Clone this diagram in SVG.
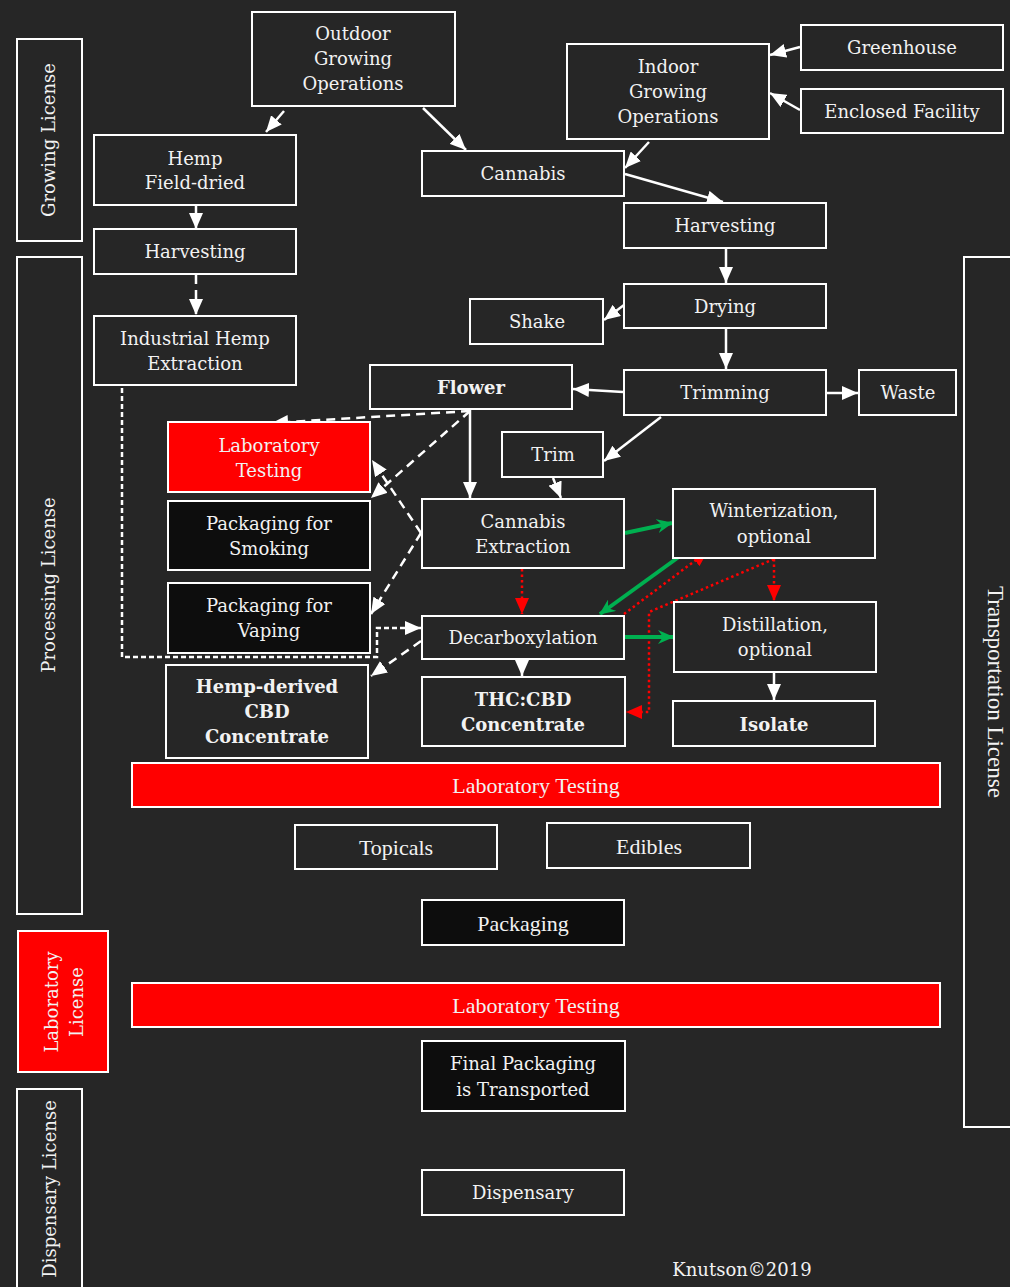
<svg xmlns="http://www.w3.org/2000/svg" width="1010" height="1287" viewBox="0 0 1010 1287">
<style>
.bx{fill:#262626;stroke:#fff;stroke-width:2}
.bk{fill:#0d0d0d;stroke:#fff;stroke-width:2}
.rd{fill:#ff0000;stroke:#fff;stroke-width:2}
.t{font-family:"DejaVu Serif",Georgia,serif;font-size:18px;fill:#f2f2f2;text-anchor:middle}
.tb{font-weight:bold}
.tt{font-family:"Liberation Serif","Times New Roman",serif;font-size:22px;fill:#f2f2f2;text-anchor:middle}
.w{stroke:#fff;stroke-width:2.5;fill:none}
.wd{stroke-dasharray:9 6}
.wf{stroke-dasharray:5 3}
.r{stroke:#f00;stroke-width:2.5;stroke-dasharray:2.5 3;fill:none}
.g{stroke:#00b050;stroke-width:4;fill:none}
</style>
<defs>
<marker id="aw" markerUnits="userSpaceOnUse" markerWidth="16" markerHeight="14" refX="16" refY="7" orient="auto"><path d="M0,0 L16,7 L0,14 z" fill="#fff"/></marker>
<marker id="ar" markerUnits="userSpaceOnUse" markerWidth="16" markerHeight="14" refX="16" refY="7" orient="auto"><path d="M0,0 L16,7 L0,14 z" fill="#f00"/></marker>
<marker id="ag" markerUnits="userSpaceOnUse" markerWidth="16" markerHeight="14" refX="15" refY="7" orient="auto"><path d="M0,0 L16,7 L0,14 L5,7 z" fill="#00b050"/></marker>
</defs>
<rect width="1010" height="1287" fill="#262626"/>

<g id="connectors">
<line class="w" x1="284" y1="111" x2="266" y2="132" marker-end="url(#aw)"/>
<line class="w" x1="423" y1="108" x2="466" y2="150" marker-end="url(#aw)"/>
<line class="w" x1="196" y1="206" x2="196" y2="229" marker-end="url(#aw)"/>
<line class="w wd" x1="196" y1="275" x2="196" y2="315" marker-end="url(#aw)"/>
<line class="w" x1="649" y1="142" x2="625" y2="168" marker-end="url(#aw)"/>
<line class="w" x1="800" y1="47" x2="770" y2="55" marker-end="url(#aw)"/>
<line class="w" x1="800" y1="110" x2="770" y2="93" marker-end="url(#aw)"/>
<line class="w" x1="625" y1="174" x2="723" y2="202" marker-end="url(#aw)"/>
<line class="w" x1="726" y1="249" x2="726" y2="283" marker-end="url(#aw)"/>
<line class="w" x1="624" y1="305" x2="604" y2="320" marker-end="url(#aw)"/>
<line class="w" x1="726" y1="329" x2="726" y2="369" marker-end="url(#aw)"/>
<line class="w" x1="623" y1="392" x2="573" y2="389" marker-end="url(#aw)"/>
<line class="w" x1="827" y1="393" x2="858" y2="393" marker-end="url(#aw)"/>
<line class="w" x1="661" y1="417" x2="604" y2="461" marker-end="url(#aw)"/>
<line class="w" x1="470" y1="410" x2="470" y2="498" marker-end="url(#aw)"/>
<line class="w wd" x1="553" y1="478" x2="561" y2="498" marker-end="url(#aw)"/>
<line class="w wd" x1="470" y1="411" x2="272" y2="423" marker-end="url(#aw)"/>
<line class="w wd" x1="470" y1="411" x2="371" y2="498" marker-end="url(#aw)"/>
<line class="w wd" x1="421" y1="533" x2="372" y2="460" marker-end="url(#aw)"/>
<line class="w wd" x1="421" y1="533" x2="371" y2="614" marker-end="url(#aw)"/>
<path class="w wf" d="M122,380 L122,657 L377,657 L377,628 L421,628" marker-end="url(#aw)"/>
<line class="w wd" x1="421" y1="641" x2="371" y2="676" marker-end="url(#aw)"/>
<line class="r" x1="522" y1="569" x2="522" y2="614" marker-end="url(#ar)"/>
<line class="w" x1="522" y1="660" x2="522" y2="676" marker-end="url(#aw)"/>
<line class="g" x1="625" y1="533" x2="672" y2="523" marker-end="url(#ag)"/>
<line class="g" x1="687" y1="551" x2="600" y2="614" marker-end="url(#ag)"/>
<line class="r" x1="624" y1="614" x2="708" y2="551" marker-end="url(#ar)"/>
<line class="r" x1="774" y1="559" x2="774" y2="601" marker-end="url(#ar)"/>
<path class="r" d="M774,559 L649,612 L649,712 L626,712" marker-end="url(#ar)"/>
<line class="g" x1="625" y1="637" x2="673" y2="637" marker-end="url(#ag)"/>
<line class="w" x1="774" y1="673" x2="774" y2="700" marker-end="url(#aw)"/>
</g>

<g id="growing-license"><rect class="bx" x="17" y="39" width="65" height="202"/><text class="t" transform="translate(49,140) rotate(-90)" y="6">Growing License</text></g>
<g id="processing-license"><rect class="bx" x="17" y="257" width="65" height="657"/><text class="t" transform="translate(49,585) rotate(-90)" y="6">Processing License</text></g>
<g id="laboratory-license"><rect class="rd" x="18" y="931" width="90" height="141"/><text class="t" transform="translate(63,1002) rotate(-90)"><tspan x="0" y="-5">Laboratory</tspan><tspan x="0" y="20">License</tspan></text></g>
<g id="dispensary-license"><rect class="bx" x="17" y="1089" width="65" height="210"/><text class="t" transform="translate(50,1189) rotate(-90)" y="6">Dispensary License</text></g>
<g id="transportation-license"><rect class="bx" x="964" y="257" width="60" height="870"/><text class="tt" transform="translate(995,692) rotate(90)" y="7" style="font-size:23px">Transportation License</text></g>

<g id="outdoor"><rect class="bx" x="252" y="12" width="203" height="94"/><text class="t"><tspan x="353" y="40">Outdoor</tspan><tspan x="353" y="65">Growing</tspan><tspan x="353" y="90">Operations</tspan></text></g>
<g id="hemp-field-dried"><rect class="bx" x="94" y="135" width="202" height="70"/><text class="t"><tspan x="195" y="165">Hemp</tspan><tspan x="195" y="189">Field-dried</tspan></text></g>
<g id="harvesting-left"><rect class="bx" x="94" y="229" width="202" height="45"/><text class="t" x="195" y="258">Harvesting</text></g>
<g id="industrial-hemp"><rect class="bx" x="94" y="316" width="202" height="69"/><text class="t"><tspan x="195" y="345">Industrial Hemp</tspan><tspan x="195" y="370">Extraction</tspan></text></g>
<g id="cannabis"><rect class="bx" x="422" y="151" width="202" height="45"/><text class="t" x="523" y="180">Cannabis</text></g>
<g id="indoor"><rect class="bx" x="567" y="44" width="202" height="95"/><text class="t"><tspan x="668" y="73">Indoor</tspan><tspan x="668" y="98">Growing</tspan><tspan x="668" y="123">Operations</tspan></text></g>
<g id="greenhouse"><rect class="bx" x="801" y="25" width="202" height="45"/><text class="t" x="902" y="54">Greenhouse</text></g>
<g id="enclosed"><rect class="bx" x="801" y="89" width="202" height="44"/><text class="t" x="902" y="118">Enclosed Facility</text></g>
<g id="harvesting-right"><rect class="bx" x="624" y="203" width="202" height="45"/><text class="t" x="725" y="232">Harvesting</text></g>
<g id="drying"><rect class="bx" x="624" y="284" width="202" height="44"/><text class="t" x="725" y="313">Drying</text></g>
<g id="shake"><rect class="bx" x="470" y="299" width="133" height="45"/><text class="t" x="537" y="328">Shake</text></g>
<g id="flower"><rect class="bx" x="370" y="365" width="202" height="44"/><text class="t tb" x="471" y="394">Flower</text></g>
<g id="trimming"><rect class="bx" x="624" y="370" width="202" height="45"/><text class="t" x="725" y="399">Trimming</text></g>
<g id="waste"><rect class="bx" x="859" y="370" width="97" height="45"/><text class="t" x="908" y="399">Waste</text></g>
<g id="trim"><rect class="bx" x="502" y="432" width="101" height="45"/><text class="t" x="553" y="461">Trim</text></g>
<g id="lab-testing-1"><rect class="rd" x="168" y="422" width="202" height="70"/><text class="t"><tspan x="269" y="452">Laboratory</tspan><tspan x="269" y="477">Testing</tspan></text></g>
<g id="pkg-smoking"><rect class="bk" x="168" y="501" width="202" height="69"/><text class="t"><tspan x="269" y="530">Packaging for</tspan><tspan x="269" y="555">Smoking</tspan></text></g>
<g id="pkg-vaping"><rect class="bk" x="168" y="583" width="202" height="70"/><text class="t"><tspan x="269" y="612">Packaging for</tspan><tspan x="269" y="637">Vaping</tspan></text></g>
<g id="cannabis-extraction"><rect class="bx" x="422" y="499" width="202" height="69"/><text class="t"><tspan x="523" y="528">Cannabis</tspan><tspan x="523" y="553">Extraction</tspan></text></g>
<g id="winterization"><rect class="bx" x="673" y="489" width="202" height="69"/><text class="t"><tspan x="774" y="517">Winterization,</tspan><tspan x="774" y="543">optional</tspan></text></g>
<g id="decarboxylation"><rect class="bx" x="422" y="616" width="202" height="43"/><text class="t" x="523" y="644">Decarboxylation</text></g>
<g id="distillation"><rect class="bx" x="674" y="602" width="202" height="70"/><text class="t"><tspan x="775" y="631">Distillation,</tspan><tspan x="775" y="656">optional</tspan></text></g>
<g id="hemp-cbd"><rect class="bx" x="166" y="665" width="202" height="93"/><text class="t tb"><tspan x="267" y="693">Hemp-derived</tspan><tspan x="267" y="718">CBD</tspan><tspan x="267" y="743">Concentrate</tspan></text></g>
<g id="thc-cbd"><rect class="bx" x="422" y="677" width="203" height="69"/><text class="t tb"><tspan x="523" y="706">THC:CBD</tspan><tspan x="523" y="731">Concentrate</tspan></text></g>
<g id="isolate"><rect class="bx" x="673" y="701" width="202" height="45"/><text class="t tb" x="774" y="731">Isolate</text></g>
<g id="lab-testing-2"><rect class="rd" x="132" y="763" width="808" height="44"/><text class="tt" x="536" y="793">Laboratory Testing</text></g>
<g id="topicals"><rect class="bx" x="295" y="825" width="202" height="44"/><text class="tt" x="396" y="855">Topicals</text></g>
<g id="edibles"><rect class="bx" x="547" y="823" width="203" height="45"/><text class="tt" x="649" y="854">Edibles</text></g>
<g id="packaging"><rect class="bk" x="422" y="900" width="202" height="45"/><text class="tt" x="523" y="931">Packaging</text></g>
<g id="lab-testing-3"><rect class="rd" x="132" y="983" width="808" height="44"/><text class="tt" x="536" y="1013">Laboratory Testing</text></g>
<g id="final-packaging"><rect class="bk" x="422" y="1041" width="203" height="70"/><text class="t"><tspan x="523" y="1070">Final Packaging</tspan><tspan x="523" y="1096">is Transported</tspan></text></g>
<g id="dispensary"><rect class="bx" x="422" y="1170" width="202" height="45"/><text class="t" x="523" y="1199">Dispensary</text></g>
<text class="t" x="742" y="1276">Knutson©2019</text>
</svg>
